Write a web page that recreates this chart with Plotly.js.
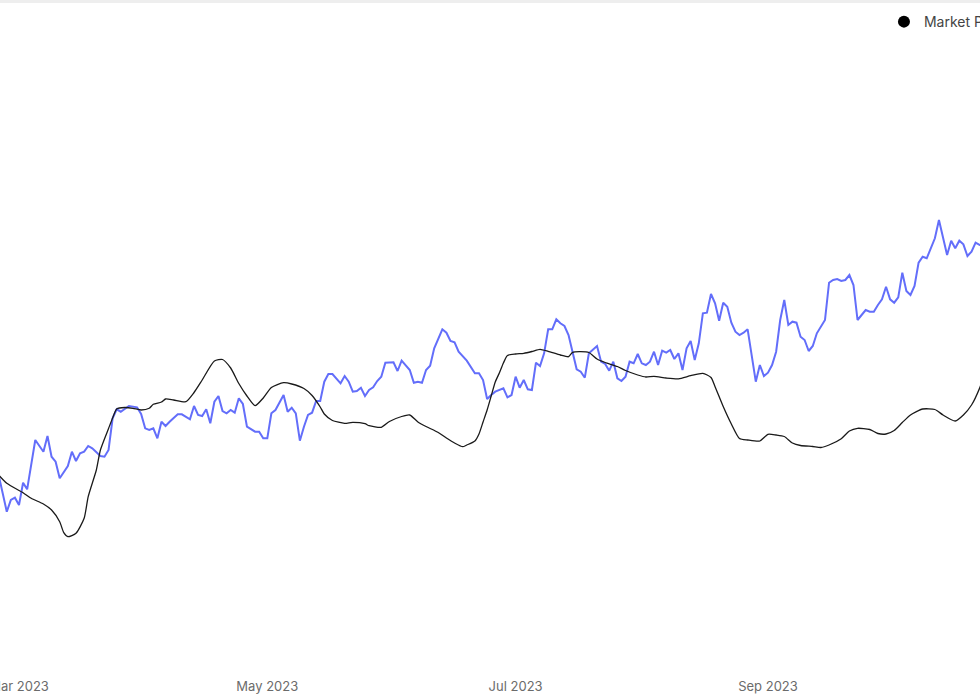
<!DOCTYPE html>
<html>
<head>
<meta charset="utf-8">
<script src="https://cdn.plot.ly/plotly-3.0.1.min.js"></script>
<style>
  html, body { margin: 0; padding: 0; background: #fff; overflow: hidden; }
  #chart { width: 980px; height: 700px; }
  #topline { position: absolute; left: 0; top: 0; width: 980px; height: 3px; background: #eeeeee; z-index: 5; }
</style>
</head>
<body>
<div id="topline"></div>
<div id="chart"></div>
<script>
// Blue series (daily values)
const blueDates = [
  "2023-02-24","2023-02-26","2023-02-27","2023-02-28","2023-03-01","2023-03-02","2023-03-03","2023-03-05",
  "2023-03-07","2023-03-08","2023-03-09","2023-03-10","2023-03-11","2023-03-12","2023-03-13","2023-03-14",
  "2023-03-15","2023-03-16","2023-03-17","2023-03-18","2023-03-19","2023-03-21","2023-03-22","2023-03-23",
  "2023-03-24","2023-03-25","2023-03-26","2023-03-28","2023-03-30","2023-03-31","2023-04-01","2023-04-02",
  "2023-04-03","2023-04-04","2023-04-05","2023-04-06","2023-04-07","2023-04-09","2023-04-10","2023-04-12",
  "2023-04-13","2023-04-14","2023-04-15","2023-04-16","2023-04-17","2023-04-18","2023-04-19","2023-04-20",
  "2023-04-21","2023-04-22","2023-04-23","2023-04-24","2023-04-25","2023-04-26","2023-04-28","2023-04-29",
  "2023-04-30","2023-05-01","2023-05-02","2023-05-03","2023-05-05","2023-05-06","2023-05-07","2023-05-08",
  "2023-05-09","2023-05-10","2023-05-11","2023-05-12","2023-05-13","2023-05-14","2023-05-15","2023-05-16",
  "2023-05-17","2023-05-19","2023-05-20","2023-05-21","2023-05-22","2023-05-23","2023-05-24","2023-05-25",
  "2023-05-26","2023-05-27","2023-05-28","2023-05-29","2023-05-30","2023-06-01","2023-06-02","2023-06-03",
  "2023-06-05","2023-06-06","2023-06-07","2023-06-08","2023-06-09","2023-06-10","2023-06-11","2023-06-13",
  "2023-06-14","2023-06-15","2023-06-16","2023-06-17","2023-06-19","2023-06-21","2023-06-22","2023-06-23",
  "2023-06-24","2023-06-25","2023-06-26","2023-06-28","2023-06-29","2023-06-30","2023-07-01","2023-07-02",
  "2023-07-03","2023-07-04","2023-07-05","2023-07-06","2023-07-07","2023-07-08","2023-07-09","2023-07-10",
  "2023-07-11","2023-07-12","2023-07-13","2023-07-14","2023-07-15","2023-07-16","2023-07-17","2023-07-18",
  "2023-07-19","2023-07-20","2023-07-21","2023-07-22","2023-07-23","2023-07-24","2023-07-25","2023-07-26",
  "2023-07-27","2023-07-28","2023-07-29","2023-07-30","2023-07-31","2023-08-01","2023-08-02","2023-08-03",
  "2023-08-04","2023-08-05","2023-08-06","2023-08-07","2023-08-08","2023-08-09","2023-08-10","2023-08-11",
  "2023-08-12","2023-08-13","2023-08-14","2023-08-15","2023-08-16","2023-08-17","2023-08-18","2023-08-19",
  "2023-08-20","2023-08-21","2023-08-22","2023-08-23","2023-08-24","2023-08-25","2023-08-26","2023-08-27",
  "2023-08-28","2023-08-29","2023-08-30","2023-08-31","2023-09-01","2023-09-02","2023-09-03","2023-09-04",
  "2023-09-05","2023-09-06","2023-09-07","2023-09-08","2023-09-09","2023-09-10","2023-09-11","2023-09-12",
  "2023-09-13","2023-09-15","2023-09-16","2023-09-17","2023-09-18","2023-09-19","2023-09-20","2023-09-21",
  "2023-09-22","2023-09-23","2023-09-24","2023-09-25","2023-09-26","2023-09-27","2023-09-28","2023-09-29",
  "2023-09-30","2023-10-01","2023-10-02","2023-10-03","2023-10-04","2023-10-05","2023-10-06","2023-10-07",
  "2023-10-08","2023-10-09","2023-10-10","2023-10-12","2023-10-13","2023-10-14","2023-10-15","2023-10-16",
  "2023-10-17","2023-10-18","2023-10-19","2023-10-20","2023-10-21","2023-10-22","2023-10-23","2023-10-24"
];
const blueValues = [
  19.50,15.83,17.00,17.23,16.50,18.73,18.07,23.00,
  21.83,23.40,21.33,20.83,19.17,19.73,20.40,21.83,
  20.90,21.67,21.83,22.40,22.17,21.40,21.33,22.00,
  25.17,26.07,25.83,26.40,26.27,25.60,24.17,24.00,
  24.17,23.17,24.83,24.40,24.83,25.57,25.57,25.07,
  26.40,25.50,25.40,26.07,24.67,26.83,27.40,25.90,
  25.67,26.00,25.73,27.17,26.60,24.33,23.83,23.83,
  23.17,23.17,25.67,26.00,27.50,25.83,26.23,25.67,
  22.93,24.33,25.50,25.73,26.90,26.90,28.83,29.60,
  29.60,28.67,29.40,28.83,27.83,27.90,28.23,27.40,
  28.00,28.27,28.90,29.33,30.73,30.77,29.90,30.93,
  30.00,28.73,28.83,28.73,30.00,30.43,32.17,34.07,
  33.73,32.90,32.77,31.83,30.93,29.67,29.67,29.00,
  27.10,27.50,27.83,28.17,27.27,27.50,29.33,28.23,
  29.00,28.07,28.00,30.73,30.40,31.67,34.07,34.07,
  35.07,34.67,34.40,33.50,31.67,30.07,29.83,29.23,
  31.67,32.00,32.40,30.83,30.60,29.93,30.83,29.17,
  28.90,29.33,30.83,30.67,31.60,30.67,30.50,30.83,
  31.83,30.50,31.93,31.73,32.00,31.10,31.67,30.00,
  32.17,32.90,31.00,32.67,35.67,35.73,37.60,36.67,
  34.93,36.73,36.33,34.73,33.83,33.50,33.73,34.07,
  31.50,28.83,30.50,29.40,29.73,30.50,31.83,35.00,
  37.00,34.50,34.83,34.73,33.33,33.00,31.90,32.40,
  33.67,35.00,38.73,39.00,39.10,38.90,39.00,39.50,
  38.50,35.00,35.50,36.00,35.83,35.83,36.50,37.07,
  38.33,37.07,36.73,37.27,39.73,37.90,37.50,38.40,
  40.73,41.33,41.17,43.17,45.00,43.33,41.50,42.93,
  42.17,42.93,42.57,41.40,41.83,42.73,42.50,42.60
];

// Black smoothed series
const blackDates = [
  "2023-02-24","2023-02-26","2023-03-02","2023-03-04","2023-03-07","2023-03-09","2023-03-11","2023-03-12",
  "2023-03-13","2023-03-15","2023-03-17","2023-03-18","2023-03-20","2023-03-21","2023-03-23","2023-03-24",
  "2023-03-25","2023-03-27","2023-03-29","2023-03-31","2023-04-02","2023-04-03","2023-04-05","2023-04-06",
  "2023-04-08","2023-04-11","2023-04-13","2023-04-15","2023-04-18","2023-04-20","2023-04-22","2023-04-24",
  "2023-04-26","2023-04-28","2023-04-30","2023-05-02","2023-05-05","2023-05-07","2023-05-10","2023-05-12",
  "2023-05-14","2023-05-15","2023-05-17","2023-05-20","2023-05-22","2023-05-25","2023-05-26","2023-05-29",
  "2023-05-31","2023-06-03","2023-06-05","2023-06-07","2023-06-09","2023-06-12","2023-06-14","2023-06-16",
  "2023-06-18","2023-06-19","2023-06-21","2023-06-22","2023-06-23","2023-06-24","2023-06-25","2023-06-26",
  "2023-06-27","2023-06-28","2023-06-29","2023-07-01","2023-07-03","2023-07-05","2023-07-07","2023-07-09",
  "2023-07-12","2023-07-14","2023-07-15","2023-07-17","2023-07-19","2023-07-21","2023-07-23","2023-07-26",
  "2023-07-28","2023-07-31","2023-08-02","2023-08-04","2023-08-07","2023-08-10","2023-08-13","2023-08-16",
  "2023-08-18","2023-08-19","2023-08-21","2023-08-23","2023-08-25","2023-08-27","2023-08-30","2023-09-01",
  "2023-09-03","2023-09-05","2023-09-07","2023-09-09","2023-09-12","2023-09-14","2023-09-16","2023-09-19",
  "2023-09-21","2023-09-23","2023-09-26","2023-09-28","2023-09-30","2023-10-02","2023-10-04","2023-10-06",
  "2023-10-09","2023-10-12","2023-10-14","2023-10-17","2023-10-19","2023-10-21","2023-10-23","2023-10-24"
];
const blackValues = [
  19.50,18.67,17.73,17.17,16.60,16.00,14.83,13.73,
  13.33,13.67,15.17,17.33,20.00,22.00,24.15,25.20,
  26.10,26.25,26.17,26.00,26.17,26.57,26.80,27.10,
  27.00,26.83,27.75,29.00,30.90,31.05,30.20,28.65,
  27.40,26.43,27.20,28.25,28.73,28.60,28.15,27.45,
  26.30,25.60,24.95,24.67,24.77,24.63,24.43,24.27,
  24.85,25.35,25.50,24.80,24.35,23.75,23.20,22.70,
  22.33,22.50,22.90,23.60,24.80,26.00,27.40,28.80,
  29.70,30.70,31.45,31.60,31.67,31.85,32.07,31.87,
  31.50,31.33,31.77,31.83,31.75,31.10,30.75,30.35,
  29.95,29.50,29.30,29.37,29.20,29.12,29.43,29.67,
  29.25,28.33,26.35,24.60,23.15,23.00,22.90,23.57,
  23.50,23.35,22.70,22.45,22.35,22.25,22.50,23.13,
  23.90,24.17,24.05,23.65,23.60,23.95,24.75,25.50,
  26.10,26.05,25.50,24.90,25.50,26.50,28.20,29.40
];

const legendName = "Market Price";
const tickFormat = "%b %Y";

const fontFam = "Inter, 'Noto Sans', Arial, sans-serif";

const traces = [
  {
    x: blueDates, y: blueValues, type: "scatter", mode: "lines",
    line: { color: "#636efa", width: 2 }, showlegend: false, hoverinfo: "skip"
  },
  {
    x: blackDates, y: blackValues, type: "scatter", mode: "lines",
    line: { color: "#1a1a1a", width: 1.3, shape: "spline", smoothing: 0.6 }, showlegend: false, hoverinfo: "skip"
  },
  {
    x: [null], y: [null], type: "scatter", mode: "markers", name: legendName,
    marker: { color: "#000000", size: 12, symbol: "circle" }, showlegend: true
  }
];

const layout = {
  width: 980, height: 700,
  margin: { l: 0, r: 0, t: 0, b: 30, pad: 0, autoexpand: false },
  paper_bgcolor: "#ffffff", plot_bgcolor: "#ffffff",
  font: { family: fontFam, size: 13, color: "#666666" },
  xaxis: {
    type: "date",
    range: ["2023-02-24 08:00", "2023-10-23 02:00"],
    tick0: "2023-03-01", dtick: "M2", tickformat: tickFormat,
    showgrid: false, zeroline: false, showline: false, ticks: "",
    ticklabeloverflow: "allow", ticklabelstandoff: 7,
    tickfont: { family: fontFam, size: 13, color: "#6b6b6b" },
    fixedrange: true
  },
  yaxis: { range: [0, 67], visible: false, fixedrange: true },
  showlegend: true,
  legend: {
    orientation: "h", x: 0.902, xanchor: "left", y: 0.991, yanchor: "top",
    font: { family: fontFam, size: 14, color: "#444444" },
    bgcolor: "rgba(0,0,0,0)", borderwidth: 0
  }
};

Plotly.newPlot("chart", traces, layout, { displayModeBar: false, staticPlot: true });
</script>
</body>
</html>
